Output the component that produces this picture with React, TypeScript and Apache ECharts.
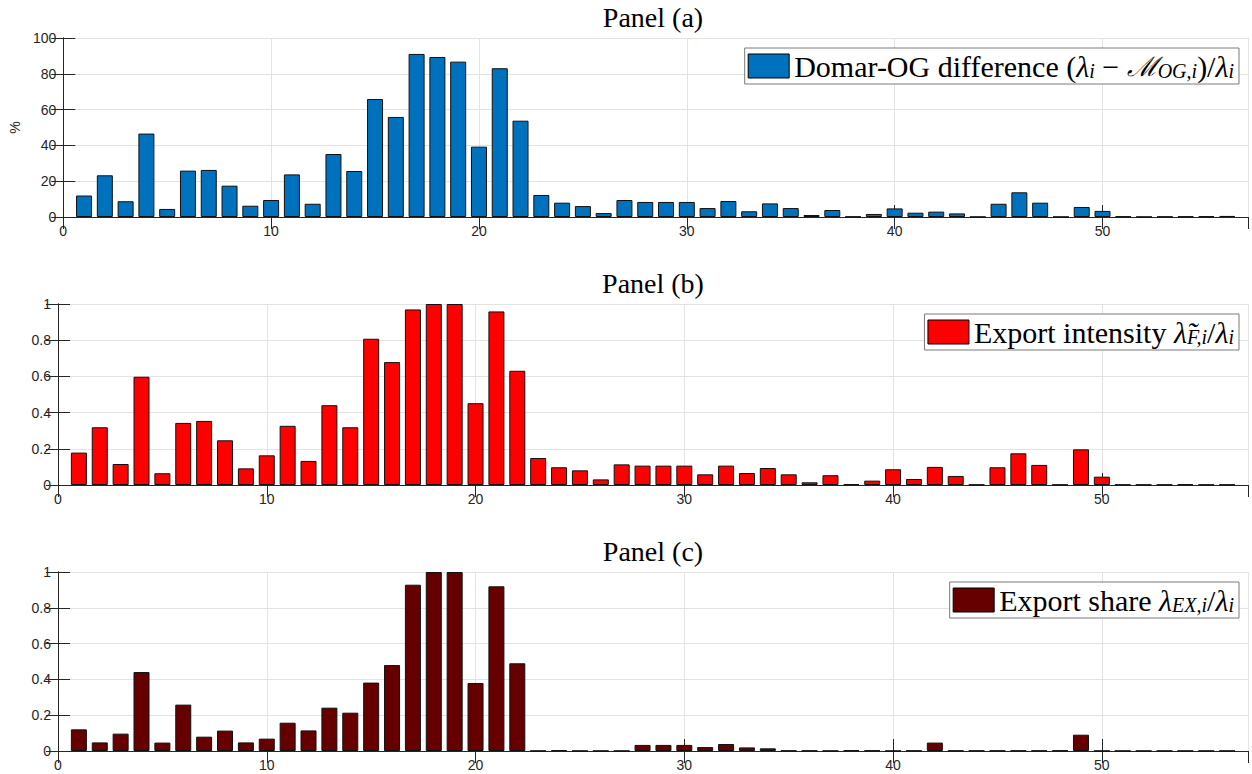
import React, { useEffect, useRef } from "react";
import * as echarts from "echarts";

const sectors = [
  1, 2, 3, 4, 5, 6, 7, 8, 9, 10, 11, 12, 13, 14, 15, 16, 17, 18, 19, 20,
  21, 22, 23, 24, 25, 26, 27, 28, 29, 30, 31, 32, 33, 34, 35, 36, 37, 38, 39, 40,
  41, 42, 43, 44, 45, 46, 47, 48, 49, 50, 51, 52, 53, 54, 55, 56,
];

const domarOG = [
  12, 23.3, 8.8, 46.6, 4.5, 25.9, 26.3, 17.5, 6.3, 9.5,
  23.8, 7.4, 35.2, 25.7, 65.9, 55.9, 91.1, 89.4, 86.8, 39.3,
  83.1, 53.8, 12.3, 8.0, 6.1, 2.2, 9.5, 8.4, 8.4, 8.4,
  5.0, 8.9, 3.2, 7.6, 5.0, 1.1, 3.9, 0.2, 1.7, 4.8,
  2.4, 3.0, 2.0, 0.1, 7.4, 13.8, 8.0, 0.1, 5.6, 3.4,
  0.3, 0.1, 0.2, 0.3, 0.4, 0.6,
];

const exportIntensity = [
  0.179, 0.319, 0.116, 0.598, 0.065, 0.343, 0.354, 0.247, 0.092, 0.164,
  0.327, 0.133, 0.441, 0.319, 0.808, 0.679, 0.97, 1.0, 1.0, 0.452,
  0.959, 0.631, 0.149, 0.098, 0.081, 0.031, 0.114, 0.107, 0.107, 0.107,
  0.059, 0.107, 0.066, 0.094, 0.059, 0.015, 0.054, 0.005, 0.024, 0.087,
  0.033, 0.1, 0.05, 0.002, 0.098, 0.175, 0.111, 0.002, 0.197, 0.046,
  0.002, 0.002, 0.002, 0.004, 0.002, 0.002,
];

const exportShare = [
  0.121, 0.048, 0.097, 0.441, 0.047, 0.259, 0.08, 0.114, 0.048, 0.069,
  0.158, 0.115, 0.242, 0.214, 0.382, 0.48, 0.929, 1.0, 1.0, 0.38,
  0.92, 0.49, 0.001, 0.004, 0.001, 0.001, 0.001, 0.034, 0.034, 0.034,
  0.022, 0.039, 0.02, 0.015, 0.002, 0.002, 0.001, 0.004, 0.003, 0.001,
  0.002, 0.047, 0.002, 0.002, 0.002, 0.002, 0.002, 0.003, 0.091, 0.001,
  0.001, 0.001, 0.001, 0.001, 0.001, 0.001,
];

const panelTitles = ["Panel (a)", "Panel (b)", "Panel (c)"];
const seriesNames = ["Domar-OG difference", "Export intensity", "Export share"];
const legendLabels = [
  "{r|Domar-OG difference (}{it|λ}{sub|i}{r| − }{cal|ℳ}{sub|OG,i}{r|)/}{it|λ}{sub|i}",
  "{r|Export intensity }{it|λ̃}{sub|F,i}{r|/}{it|λ}{sub|i}",
  "{r|Export share }{it|λ}{sub|EX,i}{r|/}{it|λ}{sub|i}",
];
const yMaxes = [100, 1, 1];
const yIntervals = [20, 0.2, 0.2];
const yAxisNames = ["%", "", ""];
const barColors = ["#0072BD", "#FF0000", "#660000"];

const SERIF = "'Liberation Serif', 'DejaVu Serif', serif";
const SANS = "'Liberation Sans', Arial, Helvetica, sans-serif";
const AX = "#262626";

const gridTops = [38, 304, 572];
const gridHeights = [179, 181, 179];
const legendTops = [48, 314, 582];

export default function App() {
  const ref = useRef<HTMLDivElement>(null);

  useEffect(() => {
    document.body.style.margin = "0";
    if (!ref.current) return;
    const chart = echarts.init(ref.current, null, { renderer: "svg" });

    const allData = [domarOG, exportIntensity, exportShare];

    const grids = gridTops.map((t, i) => ({
      left: 58,
      right: 4,
      top: t,
      height: gridHeights[i],
      containLabel: false,
    }));

    const xAxes: any[] = [];
    const yAxes: any[] = [];
    for (let i = 0; i < 3; i++) {
      xAxes.push({
        type: "value",
        gridIndex: i,
        min: 0,
        max: 57,
        interval: 10,
        position: "bottom",
        axisLine: { show: true, lineStyle: { color: AX, width: 1 } },
        axisTick: { show: true, inside: true, length: 12, lineStyle: { color: AX } },
        axisLabel: {
          show: true,
          color: AX,
          fontFamily: SANS,
          fontSize: 14,
          margin: 7,
          showMaxLabel: false,
        },
        splitLine: { show: true, lineStyle: { color: "#e3e3e3", width: 1 } },
      });
      xAxes.push({
        type: "value",
        gridIndex: i,
        min: 0,
        max: 57,
        interval: 10,
        position: "top",
        axisLine: { show: true, lineStyle: { color: AX, width: 1 } },
        axisTick: { show: true, inside: true, length: 12, lineStyle: { color: AX } },
        axisLabel: { show: false },
        splitLine: { show: false },
      });
      yAxes.push({
        type: "value",
        gridIndex: i,
        min: 0,
        max: yMaxes[i],
        interval: yIntervals[i],
        position: "left",
        name: yAxisNames[i],
        nameLocation: "middle",
        nameRotate: 90,
        nameGap: 38,
        nameTextStyle: { color: AX, fontFamily: SANS, fontSize: 14 },
        axisLine: { show: true, lineStyle: { color: AX, width: 1 } },
        axisTick: { show: true, inside: true, length: 12, lineStyle: { color: AX } },
        axisLabel: {
          show: true,
          color: AX,
          fontFamily: SANS,
          fontSize: 14,
          margin: 7,
          formatter: (v: number) => String(Math.round(v * 10) / 10),
        },
        splitLine: { show: true, lineStyle: { color: "#e3e3e3", width: 1 } },
      });
      yAxes.push({
        type: "value",
        gridIndex: i,
        min: 0,
        max: yMaxes[i],
        interval: yIntervals[i],
        position: "right",
        axisLine: { show: true, lineStyle: { color: AX, width: 1 } },
        axisTick: { show: true, inside: true, length: 12, lineStyle: { color: AX } },
        axisLabel: { show: false },
        splitLine: { show: false },
      });
    }

    const series = allData.map((vals, i) => ({
      type: "bar",
      name: seriesNames[i],
      xAxisIndex: i * 2,
      yAxisIndex: i * 2,
      barWidth: 16,
      data: sectors.map((s, k) => [s, vals[k]]),
      itemStyle: { color: barColors[i], borderColor: "#111", borderWidth: 1 },
      emphasis: { disabled: true },
    }));

    const rich = {
      r: { fontFamily: SERIF, fontSize: 30, color: "#000", lineHeight: 30 },
      it: { fontFamily: SERIF, fontSize: 30, fontStyle: "italic", color: "#000", lineHeight: 30 },
      cal: { fontFamily: "'DejaVu Serif', serif", fontSize: 27, fontStyle: "italic", color: "#000", lineHeight: 30 },
      sub: {
        fontFamily: SERIF,
        fontSize: 20,
        fontStyle: "italic",
        color: "#000",
        lineHeight: 12,
        verticalAlign: "bottom",
      },
    };

    const legends = [0, 1, 2].map((i) => ({
      data: [{ name: seriesNames[i], icon: "rect" }],
      right: 13,
      top: legendTops[i],
      orient: "horizontal",
      itemWidth: 41,
      itemHeight: 24,
      itemGap: 0,
      padding: [3, 5, 3, 3],
      backgroundColor: "#fff",
      borderColor: "#7a7a7a",
      borderWidth: 1,
      selectedMode: false,
      itemStyle: { borderColor: "#000", borderWidth: 1 },
      formatter: () => legendLabels[i],
      textStyle: { fontFamily: SERIF, fontSize: 30, color: "#000", rich },
    }));

    const graphics = panelTitles.map((t, i) => ({
      type: "text",
      x: 653,
      y: gridTops[i] - 21,
      style: {
        text: t,
        font: `28px ${SERIF}`,
        fill: "#000",
        textAlign: "center",
        textVerticalAlign: "middle",
      },
    }));

    chart.setOption({
      animation: false,
      backgroundColor: "#fff",
      grid: grids,
      xAxis: xAxes,
      yAxis: yAxes,
      series,
      legend: legends,
      graphic: graphics,
    });

    return () => {
      chart.dispose();
    };
  }, []);

  return <div ref={ref} style={{ width: 1252, height: 774 }} />;
}
